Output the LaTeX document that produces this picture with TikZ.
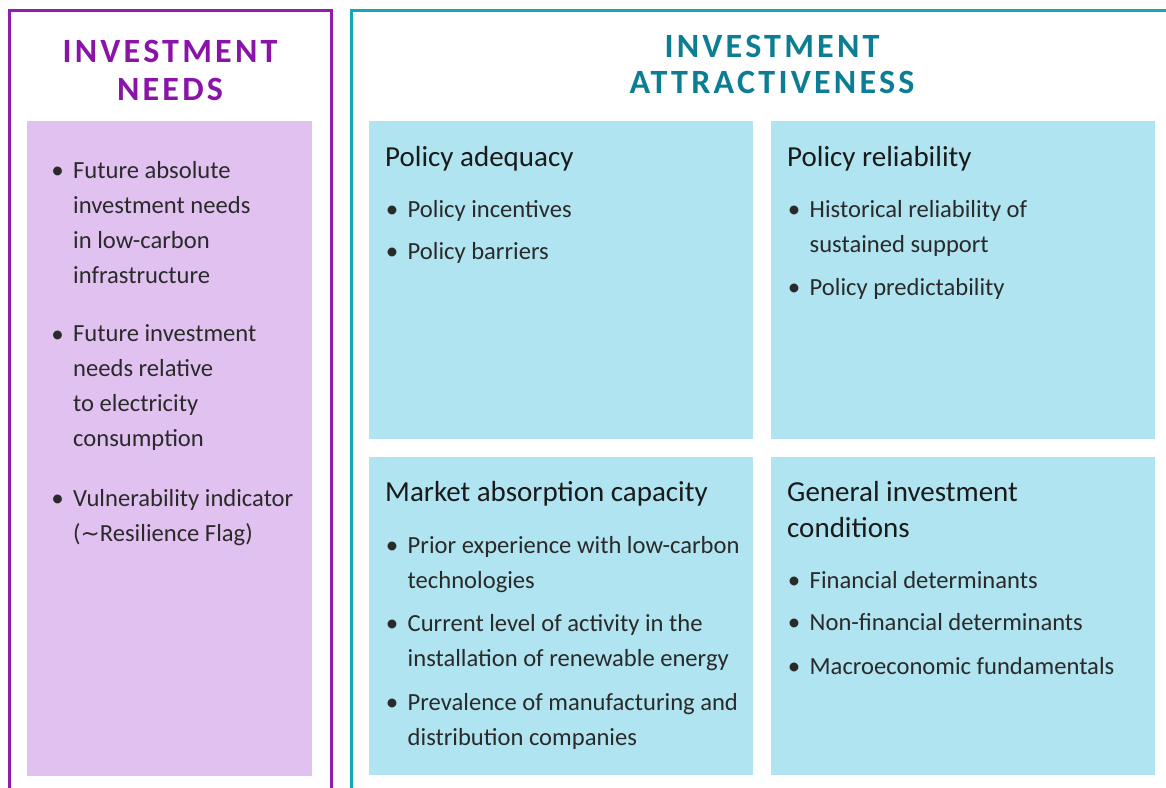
\documentclass[tikz,border=0pt]{standalone}
\usepackage{fontspec}
\setmainfont{Carlito}
\newfontfamily\headfont[LetterSpace=9.5]{Carlito}
\newfontfamily\symfont{DejaVu Sans}
\definecolor{pframe}{HTML}{8E1DB0}
\definecolor{phead}{HTML}{8A14A8}
\definecolor{pfill}{HTML}{E0C1F0}
\definecolor{tframe}{HTML}{12A9B5}
\definecolor{thead}{HTML}{0B7D94}
\definecolor{bfill}{HTML}{AFE4F0}
\definecolor{bodytext}{HTML}{2A2A2A}
\definecolor{titletext}{HTML}{1A1A1A}
\begin{document}
\begin{tikzpicture}[x=1pt,y=-1pt,
  frameline/.style={line width=3pt},
  headtext/.style={align=center, anchor=base, inner sep=0pt},
  titletxt/.style={font=\fontsize{29}{35.6}\selectfont, text=titletext, align=left, anchor=base west, inner sep=0pt},
  itemtxt/.style={font=\fontsize{24.6}{35}\selectfont, text=bodytext, align=left, anchor=base west, inner sep=0pt},
  bul/.style={font=\fontsize{25}{35}\selectfont, text=bodytext, anchor=base, inner sep=0pt}
]
\useasboundingbox (0,0) rectangle (1166,787);
\clip (0,0) rectangle (1166,787);
\fill[white] (0,0) rectangle (1166,787);
% frames
\draw[frameline, draw=pframe] (9.5,800) -- (9.5,10.5) -- (331.5,10.5) -- (331.5,800);
\draw[frameline, draw=tframe] (351.5,800) -- (351.5,10.5) -- (1180,10.5);
% panels
\fill[pfill] (27,121) rectangle (312,776);
\fill[bfill] (369,121) rectangle (753,438.5);
\fill[bfill] (771,121) rectangle (1155,438.5);
\fill[bfill] (369,457) rectangle (753,775);
\fill[bfill] (771,457) rectangle (1155,775);
% headings (node placed at baseline of last line)
\node[headtext, text=phead, font=\headfont\bfseries\fontsize{34}{38}\selectfont] (hneeds) at (170,100) {INVESTMENT\\NEEDS};
\node[headtext, text=thead, font=\headfont\bfseries\fontsize{34}{36}\selectfont] (hattr) at (772,93) {INVESTMENT\\ATTRACTIVENESS};
% left column
\node[bul] (lb1) at (57.5,178.3) {•};
\node[itemtxt] (li1) at (73,283.3) {Future absolute\\investment needs\\in low-carbon\\infrastructure};
\node[bul] (lb2) at (57.5,342.3) {•};
\node[itemtxt] (li2) at (73,446.7) {Future investment\\needs relative\\to electricity\\consumption};
\node[bul] (lb3) at (57.5,506.5) {•};
\node[itemtxt] (li3) at (73,541.5) {Vulnerability indicator\\({\symfont\fontsize{23}{35}\selectfont\char"223C}Resilience Flag)};
% policy adequacy
\node[titletxt] (t1) at (385,166) {Policy adequacy};
\node[bul] (ab1) at (392,217.3) {•};
\node[itemtxt] (ai1) at (407.5,217.3) {Policy incentives};
\node[bul] (ab2) at (392,259.3) {•};
\node[itemtxt] (ai2) at (407.5,259.3) {Policy barriers};
% policy reliability
\node[titletxt] (t2) at (787,166) {Policy reliability};
\node[bul] (rb1) at (794,217.3) {•};
\node[itemtxt] (ri1) at (809.5,252.3) {Historical reliability of\\sustained support};
\node[bul] (rb2) at (794,295) {•};
\node[itemtxt] (ri2) at (809.5,295) {Policy predictability};
% market absorption
\node[titletxt] (t3) at (385,501.7) {Market absorption capacity};
\node[bul] (mb1) at (392,553) {•};
\node[itemtxt] (mi1) at (407.5,588) {Prior experience with low-carbon\\technologies};
\node[bul] (mb2) at (392,631) {•};
\node[itemtxt] (mi2) at (407.5,666) {Current level of activity in the\\installation of renewable energy};
\node[bul] (mb3) at (392,710) {•};
\node[itemtxt] (mi3) at (407.5,745) {Prevalence of manufacturing and\\distribution companies};
% general investment
\node[titletxt] (t4) at (787,537.3) {General investment\\conditions};
\node[bul] (gb1) at (794,588.3) {•};
\node[itemtxt] (gi1) at (809.5,588.3) {Financial determinants};
\node[bul] (gb2) at (794,630.7) {•};
\node[itemtxt] (gi2) at (809.5,630.7) {Non-financial determinants};
\node[bul] (gb3) at (794,674) {•};
\node[itemtxt] (gi3) at (809.5,674) {Macroeconomic fundamentals};
\end{tikzpicture}
\end{document}
